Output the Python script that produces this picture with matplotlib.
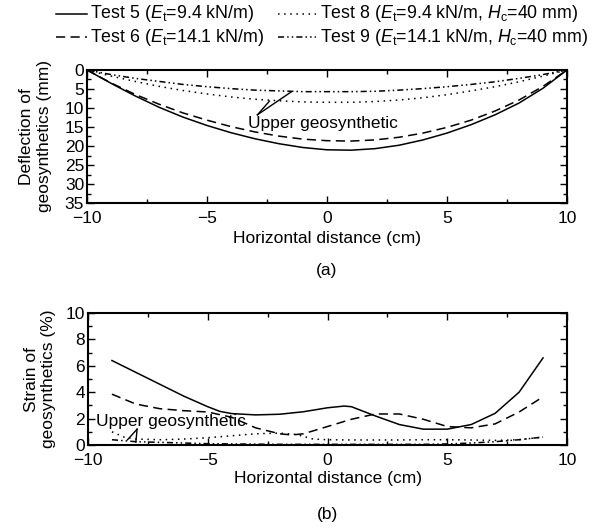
import numpy as np
import matplotlib.pyplot as plt
from matplotlib.lines import Line2D
from matplotlib.ticker import MultipleLocator

plt.rcParams['font.family'] = ['Liberation Sans', 'DejaVu Sans']
plt.rcParams['mathtext.fontset'] = 'custom'
plt.rcParams['mathtext.rm'] = 'Liberation Sans'
plt.rcParams['mathtext.it'] = 'Liberation Sans:italic'
plt.rcParams['font.size'] = 12.5

# (a) deflection of geosynthetics (mm)
x_def = [-10, -9, -8, -7, -6, -5, -4, -3, -2, -1, 0, 1, 2, 3, 4, 5, 6, 7, 8, 9, 10]
def_t5 = [0, 3.5, 6.8, 9.8, 12.4, 14.6, 16.5, 18.1, 19.4, 20.4, 21.0, 21.1, 20.7, 19.8, 18.4, 16.6, 14.4, 11.8, 8.7, 4.8, 0]
def_t6 = [0, 3.4, 6.4, 9.0, 11.3, 13.2, 14.9, 16.3, 17.4, 18.2, 18.6, 18.7, 18.4, 17.7, 16.6, 15.1, 13.2, 10.8, 7.9, 4.3, 0]
def_t8 = [0, 1.6, 3.0, 4.3, 5.4, 6.3, 7.1, 7.7, 8.1, 8.4, 8.5, 8.5, 8.3, 7.9, 7.3, 6.5, 5.5, 4.4, 3.1, 1.6, 0]
def_t9 = [0, 1.2, 2.2, 3.0, 3.8, 4.4, 4.9, 5.3, 5.5, 5.7, 5.7, 5.7, 5.6, 5.3, 4.9, 4.4, 3.8, 3.1, 2.2, 1.2, 0]

# (b) strain of geosynthetics (%)
x_s5 = [-9, -8, -7, -6, -5, -4.5, -4, -3, -2, -1, 0, 0.7, 1, 2, 3, 4, 5, 6, 7, 8, 9]
s_t5 = [6.4, 5.5, 4.6, 3.7, 2.9, 2.55, 2.38, 2.28, 2.33, 2.52, 2.82, 2.95, 2.9, 2.2, 1.55, 1.2, 1.2, 1.55, 2.4, 4.0, 6.6]
x_s6 = [-9, -8, -7, -6, -5, -4, -3, -2, -1.5, -1, 0, 1, 2, 3, 4, 5, 6, 7, 8, 9]
s_t6 = [3.85, 3.1, 2.75, 2.6, 2.5, 2.1, 1.3, 0.85, 0.76, 0.85, 1.4, 1.95, 2.35, 2.35, 1.95, 1.4, 1.3, 1.6, 2.5, 3.65]
x_s8 = [-9, -8.5, -8, -7, -6, -5, -4, -3, -2, -1.3, -0.6, 0, 1, 2, 3, 4, 5, 6, 7, 8, 9]
s_t8 = [1.0, 0.6, 0.45, 0.4, 0.45, 0.55, 0.7, 0.85, 0.9, 0.8, 0.45, 0.4, 0.38, 0.38, 0.38, 0.4, 0.4, 0.38, 0.35, 0.4, 0.6]
x_s9 = [-9, -8, -7, -6, -5, -4, -2, 0, 2, 4, 5, 6, 7, 8, 9]
s_t9 = [0.4, 0.25, 0.2, 0.15, 0.1, 0.08, 0.05, 0.05, 0.05, 0.05, 0.08, 0.15, 0.25, 0.4, 0.6]

labels = [r'Test 5 ($\mathit{E}_\mathrm{t}$=9.4 kN/m)',
          r'Test 6 ($\mathit{E}_\mathrm{t}$=14.1 kN/m)',
          r'Test 8 ($\mathit{E}_\mathrm{t}$=9.4 kN/m, $\mathit{H}_\mathrm{c}$=40 mm)',
          r'Test 9 ($\mathit{E}_\mathrm{t}$=14.1 kN/m, $\mathit{H}_\mathrm{c}$=40 mm)']

styles = [dict(ls='-'), dict(ls=(0, (6, 3.5))), dict(ls=(0, (1, 3))), dict(ls=(0, (4, 2, 1, 2, 1, 2)))]
lw = 1.1

W, H = 601, 529
fig = plt.figure(figsize=(W / 100, H / 100), dpi=100)
ax1 = fig.add_axes([87 / W, 1 - 203 / H, 480 / W, 133 / H])
ax2 = fig.add_axes([88 / W, 1 - 445 / H, 479 / W, 132 / H])

for y, st in zip([def_t5, def_t6, def_t8, def_t9], styles):
    ax1.plot(x_def, y, color='black', lw=lw, **st)

for xx, y, st in zip([x_s5, x_s6, x_s8, x_s9], [s_t5, s_t6, s_t8, s_t9], styles):
    ax2.plot(xx, y, color='black', lw=lw, **st)

ax1.set_xlim(-10, 10)
ax1.set_ylim(35, 0)
ax1.xaxis.set_major_locator(MultipleLocator(5))
ax1.xaxis.set_minor_locator(MultipleLocator(2.5))
ax1.yaxis.set_major_locator(MultipleLocator(5))
ax1.yaxis.set_minor_locator(MultipleLocator(2.5))
ax1.set_xlabel('Horizontal distance (cm)', labelpad=3)
ax1.set_ylabel('Deflection of\ngeosynthetics (mm)', linespacing=1.3, labelpad=9)

ax2.set_xlim(-10, 10)
ax2.set_ylim(0, 10)
ax2.xaxis.set_major_locator(MultipleLocator(5))
ax2.xaxis.set_minor_locator(MultipleLocator(2.5))
ax2.yaxis.set_major_locator(MultipleLocator(2))
ax2.yaxis.set_minor_locator(MultipleLocator(1))
ax2.set_xlabel('Horizontal distance (cm)', labelpad=2)
ax2.set_ylabel('Strain of\ngeosynthetics (%)', linespacing=1.15, labelpad=7)

for ax in (ax1, ax2):
    ax.tick_params(which='both', direction='in', top=True, right=True)
    ax.tick_params(axis='x', which='both', pad=6)
    ax.tick_params(axis='y', which='both', pad=2)
    ax.tick_params(which='major', length=5, width=1)
    ax.tick_params(which='minor', length=3, width=1)
    for s in ax.spines.values():
        s.set_linewidth(1.5)

# annotations
ax1.text(-3.3, 14.2, 'Upper geosynthetic', va='center', ha='left')
ax1.plot([-2.9, -2.4], [11.8, 8.2], color='black', lw=1)
ax1.plot([-2.9, -1.5], [11.8, 5.8], color='black', lw=1)

ax2.text(-9.65, 1.8, 'Upper geosynthetic', va='center', ha='left')
ax2.plot([-7.95, -8.35], [1.2, 0.4], color='black', lw=1)
ax2.plot([-7.95, -8.0], [1.2, 0.22], color='black', lw=1)

# legend drawn in figure pixels
leg_rows = [14, 37]
leg_cols = [(56, 87, 90), (278, 316, 320)]
order = [(0, 0), (1, 0), (0, 1), (1, 1)]
for i, (r, c) in enumerate(order):
    x0, x1, xt = leg_cols[c]
    yy = 1 - leg_rows[r] / H
    fig.add_artist(Line2D([x0 / W, x1 / W], [yy, yy], color='black', lw=lw,
                          transform=fig.transFigure, **styles[i]))
    fig.text(xt / W, yy, labels[i], ha='left', va='center', fontsize=12.8)

fig.text(327 / W, 1 - 271 / H, '(a)', ha='center', va='center')
fig.text(327 / W, 1 - 515 / H, '(b)', ha='center', va='center')

fig.savefig('out.png', dpi=100)
